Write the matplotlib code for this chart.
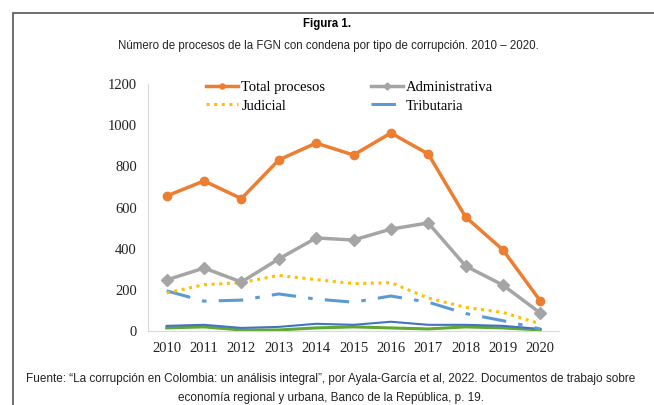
import numpy as np
import matplotlib.pyplot as plt
from matplotlib.patches import Rectangle

## data
years = [2010, 2011, 2012, 2013, 2014, 2015, 2016, 2017, 2018, 2019, 2020]
total = [656, 729, 643, 831, 913, 855, 962, 860, 554, 394, 146]
administrativa = [248, 306, 238, 350, 452, 442, 495, 525, 316, 223, 87]
judicial = [185, 225, 235, 270, 250, 230, 235, 160, 115, 90, 35]
tributaria = [195, 145, 150, 180, 155, 140, 170, 140, 85, 50, 10]
otro1 = [25, 30, 15, 20, 35, 30, 45, 30, 30, 25, 10]
otro2 = [15, 20, 5, 5, 15, 20, 15, 10, 20, 15, 5]

titulo = "Figura 1."
subtitulo = "Número de procesos de la FGN con condena por tipo de corrupción. 2010 – 2020."
fuente1 = "Fuente: \u201cLa corrupción en Colombia: un análisis integral\u201d, por Ayala-García et al, 2022. Documentos de trabajo sobre"
fuente2 = "economía regional y urbana, Banco de la República, p. 19."

sans = ['Liberation Sans', 'DejaVu Sans']
serif = ['Liberation Serif', 'DejaVu Serif']

fig = plt.figure(figsize=(6.54, 4.05), dpi=100)

# frame around the figure
fig.patches.append(Rectangle((13/654, -0.01), 1.0, 1 - 13/405 + 0.01,
                             transform=fig.transFigure, fill=False,
                             edgecolor='#555555', linewidth=1.2))

fig.text(327/654, 1 - 24/405, titulo, ha='center', va='center',
         fontsize=8.3, fontweight='bold', family=sans)
fig.text(328/654, 1 - 46/405, subtitulo, ha='center', va='center',
         fontsize=8.3, family=sans, color='#222222')
fig.text(331/654, 1 - 379/405, fuente1, ha='center', va='center',
         fontsize=8.5, family=sans, color='#222222')
fig.text(331/654, 1 - 398/405, fuente2, ha='center', va='center',
         fontsize=8.5, family=sans, color='#222222')

ax = fig.add_axes([148/654, 1 - 331/405, (559 - 148)/654, (331 - 84)/405])

ax.plot(years, otro2, color='#5fa832', lw=2.2)
ax.plot(years, otro1, color='#4472c4', lw=1.5)
l_tri, = ax.plot(years, tributaria, color='#5b9bd5', lw=2.2,
                 dashes=(8, 4, 1.5, 4), label='Tributaria')
l_jud, = ax.plot(years, judicial, color='#ffc000', lw=2.2,
                 linestyle=(0, (1, 1.5)), label='Judicial')
l_adm, = ax.plot(years, administrativa, color='#a5a5a5', lw=2.5,
                 marker='D', ms=6, label='Administrativa')
l_tot, = ax.plot(years, total, color='#ed7d31', lw=2.5,
                 marker='o', ms=6, label='Total procesos')

ax.set_xlim(2009.5, 2020.5)
ax.set_ylim(0, 1200)
ax.set_xticks(years)
ax.set_yticks(np.arange(0, 1201, 200))
for s in ['top', 'right']:
    ax.spines[s].set_visible(False)
ax.spines['left'].set_color('#d9d9d9')
ax.spines['bottom'].set_color('#d9d9d9')
ax.tick_params(length=0, labelsize=10.5, pad=8)
for lab in ax.get_xticklabels() + ax.get_yticklabels():
    lab.set_family(serif)
    lab.set_color('#222222')

# matplotlib fills legend columns first
leg = ax.legend(handles=[l_tot, l_jud, l_adm, l_tri], ncol=2, frameon=False,
                loc='upper left', bbox_to_anchor=(0.11, 1.065),
                prop={'family': serif, 'size': 10.5},
                handlelength=2.2, handletextpad=0.2, columnspacing=3.1,
                labelspacing=0.35, markerscale=0.6)

plt.savefig('out.png', dpi=100)
